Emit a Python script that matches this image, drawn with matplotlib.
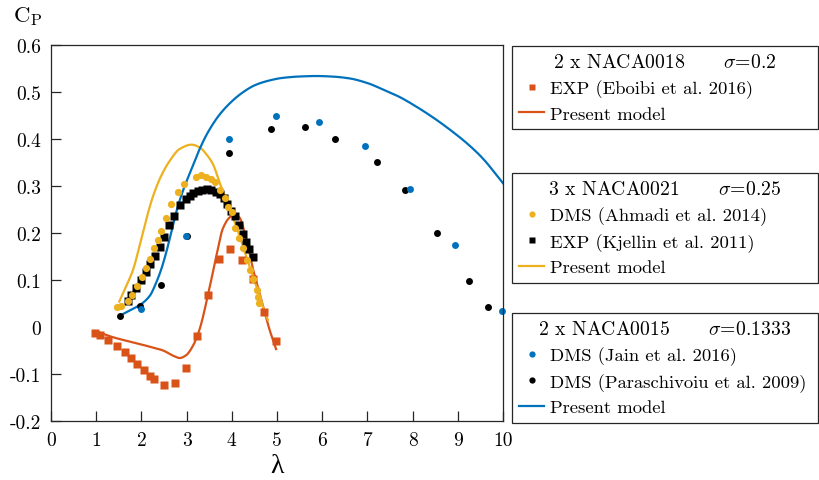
import matplotlib
matplotlib.use('Agg')
import matplotlib.pyplot as plt
import numpy as np

plt.rcParams['font.family'] = 'serif'
plt.rcParams['font.serif'] = ['cmr10']
plt.rcParams['mathtext.fontset'] = 'cm'
plt.rcParams['axes.unicode_minus'] = False
plt.rcParams['axes.formatter.use_mathtext'] = True

# colours (MATLAB default order)
c_blue = (0/255, 114/255, 189/255)
c_orange = (217/255, 83/255, 25/255)
c_yellow = (237/255, 177/255, 32/255)

#%% 2 x NACA0018, sigma = 0.2
eb_exp_x = [0.97, 1.08, 1.25, 1.45, 1.63, 1.76, 1.91, 2.05, 2.19, 2.27, 2.49, 2.74,
            2.98, 3.23, 3.47, 3.72, 3.97, 4.22, 4.48, 4.72, 4.98]
eb_exp_y = [-0.013, -0.018, -0.028, -0.040, -0.054, -0.066, -0.079, -0.091, -0.104, -0.111,
            -0.123, -0.120, -0.088, -0.020, 0.069, 0.145, 0.167, 0.143, 0.102, 0.031, -0.030]
eb_mod_x = [1.0, 1.38, 1.74, 2.11, 2.48, 2.70, 2.85, 2.99, 3.14, 3.29, 3.47, 3.66, 3.80,
            3.95, 4.06, 4.17, 4.32, 4.47, 4.65, 4.83, 4.98]
eb_mod_y = [-0.009, -0.022, -0.031, -0.040, -0.050, -0.061, -0.066, -0.060, -0.040, -0.004,
            0.067, 0.152, 0.209, 0.233, 0.240, 0.233, 0.187, 0.123, 0.060, -0.004, -0.047]

#%% 3 x NACA0021, sigma = 0.25
ah_dms_x = [1.46, 1.55, 1.70, 1.79, 1.90, 2.01, 2.10, 2.19, 2.27, 2.36, 2.43, 2.54, 2.65,
            2.80, 2.94, 3.20, 3.31, 3.42, 3.53, 3.62, 3.73, 3.84, 3.91, 4.00, 4.08, 4.15,
            4.24, 4.33, 4.41, 4.48, 4.55, 4.59, 4.61]
ah_dms_y = [0.043, 0.045, 0.055, 0.068, 0.087, 0.106, 0.125, 0.145, 0.168, 0.185, 0.204,
            0.232, 0.262, 0.287, 0.304, 0.319, 0.323, 0.319, 0.315, 0.308, 0.291, 0.274,
            0.255, 0.245, 0.210, 0.189, 0.168, 0.143, 0.121, 0.102, 0.079, 0.064, 0.051]
kj_exp_x = [1.70, 1.78, 1.88, 1.99, 2.11, 2.20, 2.30, 2.41, 2.50, 2.61, 2.72, 2.85, 2.98,
            3.07, 3.14, 3.25, 3.35, 3.46, 3.55, 3.64, 3.73, 3.82, 3.89, 3.99, 4.08, 4.17,
            4.25, 4.32, 4.39, 4.47]
kj_exp_y = [0.055, 0.068, 0.082, 0.099, 0.116, 0.134, 0.152, 0.170, 0.191, 0.216, 0.237,
            0.260, 0.272, 0.279, 0.285, 0.290, 0.292, 0.294, 0.291, 0.287, 0.283, 0.274,
            0.262, 0.247, 0.236, 0.216, 0.198, 0.180, 0.166, 0.150]
ah_mod_x = [1.51, 1.67, 1.82, 1.96, 2.11, 2.26, 2.44, 2.63, 2.85, 3.11, 3.29, 3.45, 3.58,
            3.75, 3.95, 4.10, 4.32, 4.54, 4.76, 4.80]
ah_mod_y = [0.054, 0.088, 0.123, 0.173, 0.230, 0.279, 0.322, 0.354, 0.379, 0.388, 0.382,
            0.366, 0.347, 0.302, 0.252, 0.214, 0.150, 0.088, 0.024, 0.015]

#%% 2 x NACA0015, sigma = 0.1333
ja_dms_x = [2.00, 2.98, 3.93, 4.97, 5.92, 6.95, 7.95, 8.94, 9.98]
ja_dms_y = [0.038, 0.193, 0.400, 0.449, 0.437, 0.385, 0.294, 0.174, 0.034]
pa_dms_x = [1.52, 1.96, 2.43, 3.00, 3.93, 4.86, 5.63, 6.29, 7.22, 7.84, 8.54, 9.25, 9.67]
pa_dms_y = [0.023, 0.045, 0.089, 0.193, 0.370, 0.421, 0.425, 0.400, 0.351, 0.291, 0.200,
            0.098, 0.043]
ja_mod_x = [1.52, 1.74, 2.00, 2.19, 2.33, 2.44, 2.55, 2.66, 2.77, 2.88, 2.99, 3.14, 3.29,
            3.47, 3.73, 4.00, 4.24, 4.50, 4.77, 5.12, 5.50, 5.87, 6.20, 6.60, 7.00, 7.33,
            7.70, 8.08, 8.45, 8.81, 9.20, 9.54, 10.0]
ja_mod_y = [0.024, 0.035, 0.049, 0.067, 0.095, 0.123, 0.159, 0.201, 0.244, 0.279, 0.308,
            0.343, 0.379, 0.414, 0.452, 0.480, 0.499, 0.514, 0.523, 0.530, 0.533, 0.534,
            0.533, 0.529, 0.519, 0.506, 0.490, 0.469, 0.446, 0.421, 0.391, 0.360, 0.306]


def smooth(x, y, n=300):
    # monotone cubic (pchip-like) through read-off points
    x = np.asarray(x, float)
    y = np.asarray(y, float)
    h = np.diff(x)
    d = np.diff(y) / h
    m = np.zeros_like(y)
    for i in range(1, len(x) - 1):
        if d[i - 1] * d[i] > 0:
            w1 = 2 * h[i] + h[i - 1]
            w2 = h[i] + 2 * h[i - 1]
            m[i] = (w1 + w2) / (w1 / d[i - 1] + w2 / d[i])
    m[0] = d[0]
    m[-1] = d[-1]
    xs = np.linspace(x[0], x[-1], n)
    idx = np.clip(np.searchsorted(x, xs) - 1, 0, len(x) - 2)
    t = (xs - x[idx]) / h[idx]
    h00 = 2 * t**3 - 3 * t**2 + 1
    h10 = t**3 - 2 * t**2 + t
    h01 = -2 * t**3 + 3 * t**2
    h11 = t**3 - t**2
    ys = h00 * y[idx] + h10 * h[idx] * m[idx] + h01 * y[idx + 1] + h11 * h[idx] * m[idx + 1]
    return xs, ys


fig = plt.figure(figsize=(8.2, 4.81), dpi=100)
ax = fig.add_axes([51/820, 1 - 422/481, (503 - 51)/820, (422 - 46)/481])

lw = 1.6
x, y = smooth(eb_mod_x, eb_mod_y)
l_eb, = ax.plot(x, y, color=c_orange, lw=lw)
x, y = smooth(ah_mod_x, ah_mod_y)
l_ah, = ax.plot(x, y, color=c_yellow, lw=lw)
x, y = smooth(ja_mod_x, ja_mod_y)
l_ja, = ax.plot(x, y, color=c_blue, lw=lw)

p_eb, = ax.plot(eb_exp_x, eb_exp_y, 's', color=c_orange, ms=5.2, mec='none')
p_kj, = ax.plot(kj_exp_x, kj_exp_y, 's', color='black', ms=5.2, mec='none')
p_ah, = ax.plot(ah_dms_x, ah_dms_y, 'o', color=c_yellow, ms=5.2, mec='none')
p_pa, = ax.plot(pa_dms_x, pa_dms_y, 'o', color='black', ms=5.0, mec='none')
p_ja, = ax.plot(ja_dms_x, ja_dms_y, 'o', color=c_blue, ms=5.0, mec='none', clip_on=False)

ax.set_xlim(0, 10)
ax.set_ylim(-0.2, 0.6)
ax.set_xticks(range(0, 11))
ax.set_xticklabels([str(i) for i in range(0, 11)])
yt = [-0.2, -0.1, 0, 0.1, 0.2, 0.3, 0.4, 0.5, 0.6]
ax.set_yticks(yt)
ax.set_yticklabels(['-0.2', '-0.1', '0', '0.1', '0.2', '0.3', '0.4', '0.5', '0.6'])
ax.tick_params(direction='in', length=7.5, width=0.9, labelsize=14, pad=7,
               top=False, right=False, color='0.15')
# hide the tick at y = 0 like the original
ax.yaxis.get_major_ticks()[2].tick1line.set_visible(False)
for s in ax.spines.values():
    s.set_linewidth(0.9)
    s.set_color('0.15')

ax.set_xlabel('λ', fontsize=20, labelpad=3, family='Liberation Serif')
fig.text(13/820, 1 - 17/481, r'$\mathrm{C_P}$', fontsize=16.5, va='center', ha='left')

# legends outside the axes, one per turbine
leg_x = 512/820
leg_w = (818 - 512)/820
lkw = dict(loc='upper left', mode='expand', fontsize=13.4, title_fontsize=14.2,
           handlelength=1.3, handletextpad=0.35, labelspacing=0.42, borderpad=0.4,
           borderaxespad=0, fancybox=False, framealpha=1, edgecolor='0.15',
           bbox_transform=fig.transFigure)

leg1 = fig.legend([p_eb, l_eb], ['EXP (Eboibi et al. 2016)', 'Present model'],
                  title=r'2 x NACA0018      $\sigma$=0.2',
                  bbox_to_anchor=(leg_x, 1 - 131/481, leg_w, 84/481), **lkw)
leg2 = fig.legend([p_ah, p_kj, l_ah],
                  ['DMS (Ahmadi et al. 2014)', 'EXP (Kjellin et al. 2011)', 'Present model'],
                  title=r'3 x NACA0021      $\sigma$=0.25',
                  bbox_to_anchor=(leg_x, 1 - 282/481, leg_w, 108/481), **lkw)
leg3 = fig.legend([p_ja, p_pa, l_ja],
                  ['DMS (Jain et al. 2016)', 'DMS (Paraschivoiu et al. 2009)', 'Present model'],
                  title=r'2 x NACA0015      $\sigma$=0.1333',
                  bbox_to_anchor=(leg_x, 1 - 423/481, leg_w, 109/481), **lkw)
for lg in (leg1, leg2, leg3):
    lg.get_frame().set_linewidth(0.9)
    for h in lg.legend_handles:
        if h.get_marker() not in (None, 'None', ''):
            h.set_markersize(4.5)

fig.savefig('out.png', dpi=100)
